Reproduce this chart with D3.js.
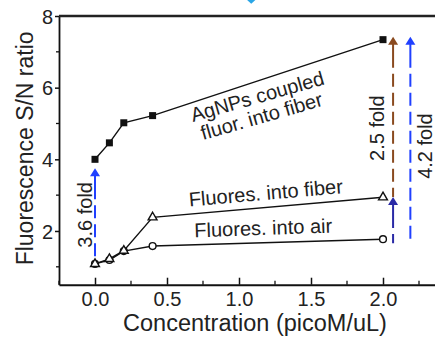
<!DOCTYPE html>
<html>
<head>
<meta charset="utf-8">
<script src="https://cdn.jsdelivr.net/npm/d3@7/dist/d3.min.js"></script>
<style>
  html, body { margin: 0; padding: 0; background: #fff; }
  svg { display: block; font-family: "Liberation Sans", Arial, sans-serif; }
</style>
</head>
<body>
<div id="chart"></div>
<script>
// Concentration values (picoM/uL) shared by all three series
const concentrations = [0, 0.1, 0.2, 0.4, 2.0];

// S/N ratio series
const agnpsFiber = [4.0, 4.46, 5.02, 5.22, 7.34];
const fluorFiber = [1.08, 1.22, 1.45, 2.38, 2.94];
const fluorAir = [1.08, 1.19, 1.44, 1.58, 1.77];

// Axis ticks
const xTicks = [0, 0.5, 1.0, 1.5, 2.0];
const xMinorTicks = [-0.25, 0.25, 0.75, 1.25, 1.75, 2.25];
const yTicks = [2, 4, 6, 8];
const yMinorTicks = [1, 3, 5, 7];

// Fold-change arrows (data units)
const arrowX = [0, 2.07, 2.07, 2.19];
const arrowFrom = [1.2, 2.95, 1.66, 1.66];
const arrowTo = [3.75, 7.42, 2.95, 7.42];
const arrowColors = ['#2040ff', '#8a4a1f', '#2a2aa6', '#2040ff'];

// Fold labels (rotated), anchored in data units
const foldText = ['3.6 fold', '2.5 fold', '4.2 fold'];
const foldX = [-0.02, 2.005, 2.34];
const foldY = [2.45, 4.87, 4.37];

// Series labels
const seriesLabels = [
  { lines: ['AgNPs coupled', 'fluor. into fiber'], x: [1.14, 1.17], y: [5.57, 5.02], angle: -16 },
  { lines: ['Fluores. into fiber'], x: [1.19], y: [2.87], angle: -5 },
  { lines: ['Fluores. into air'], x: [1.17], y: [1.89], angle: -2 }
];

const W = 435, H = 341;
const margin = { top: 16, left: 59 };
const font = '"Liberation Sans", Arial, sans-serif';

const svg = d3.select('#chart').append('svg')
  .attr('width', W)
  .attr('height', H);

const x = d3.scaleLinear().domain([-0.25, 2.5]).range([margin.left, margin.left + 2.75 * 144]);
const y = d3.scaleLinear().domain([0.5, 8]).range([margin.top + 7.5 * 35.83, margin.top]);

// Small cyan wedge at the very top (cropped element of the source figure)
svg.append('path')
  .attr('d', `M${x(1.05)},${y(8.47)} L${x(1.12)},${y(8.47)} L${x(1.085)},${y(8.34)} Z`)
  .attr('fill', '#2aa6e6');

// Axes
const xAxis = svg.append('g')
  .attr('transform', `translate(0,${y(0.5)})`)
  .call(d3.axisBottom(x).tickValues(xTicks).tickFormat(d3.format('.1f'))
    .tickSizeInner(-7).tickSizeOuter(0).tickPadding(7));

const yAxis = svg.append('g')
  .attr('transform', `translate(${x(-0.25)},0)`)
  .call(d3.axisLeft(y).tickValues(yTicks).tickFormat(d3.format('d'))
    .tickSizeInner(4).tickSizeOuter(0).tickPadding(2));

[xAxis, yAxis].forEach(g => {
  g.select('.domain').attr('stroke', '#111').attr('stroke-width', 1.8);
  g.selectAll('.tick line').attr('stroke', '#111').attr('stroke-width', 1.5);
  g.selectAll('.tick text')
    .attr('fill', '#222')
    .style('font-family', font)
    .style('font-size', '20px');
});
yAxis.selectAll('.tick text').attr('dy', '0.36em');

// Minor ticks
svg.append('g').selectAll('line')
  .data(xMinorTicks)
  .join('line')
  .attr('x1', d => x(d)).attr('x2', d => x(d))
  .attr('y1', y(0.5)).attr('y2', y(0.5) - 4)
  .attr('stroke', '#111').attr('stroke-width', 1.3);

svg.append('g').selectAll('line')
  .data(yMinorTicks)
  .join('line')
  .attr('x1', x(-0.25)).attr('x2', x(-0.25) - 3)
  .attr('y1', d => y(d)).attr('y2', d => y(d))
  .attr('stroke', '#111').attr('stroke-width', 1.3);

// Top frame line
svg.append('line')
  .attr('x1', x(-0.25)).attr('x2', W)
  .attr('y1', y(8)).attr('y2', y(8))
  .attr('stroke', '#222').attr('stroke-width', 2.5);

// Axis titles
svg.append('text')
  .attr('transform', `translate(33,${(y(8) + y(0.5)) / 2 - 2}) rotate(-90)`)
  .attr('text-anchor', 'middle')
  .style('font-family', font).style('font-size', '23px').attr('fill', '#222')
  .text('Fluorescence S/N ratio');

svg.append('text')
  .attr('x', 255).attr('y', 331)
  .attr('text-anchor', 'middle')
  .style('font-family', font).style('font-size', '23.5px').attr('fill', '#222')
  .text('Concentration (picoM/uL)');

// Series lines and markers
const line = d3.line().x(d => x(d[0])).y(d => y(d[1]));
const pts = vals => concentrations.map((c, i) => [c, vals[i]]);

function drawLine(vals) {
  svg.append('path')
    .datum(pts(vals))
    .attr('d', line)
    .attr('fill', 'none')
    .attr('stroke', '#111')
    .attr('stroke-width', 1.4);
}

drawLine(fluorAir);
drawLine(fluorFiber);
drawLine(agnpsFiber);

svg.append('g').selectAll('circle')
  .data(pts(fluorAir))
  .join('circle')
  .attr('cx', d => x(d[0])).attr('cy', d => y(d[1]))
  .attr('r', 3.4)
  .attr('fill', '#fff').attr('stroke', '#111').attr('stroke-width', 1.4);

svg.append('g').selectAll('path')
  .data(pts(fluorFiber))
  .join('path')
  .attr('d', d3.symbol(d3.symbolTriangle, 34))
  .attr('transform', d => `translate(${x(d[0])},${y(d[1])})`)
  .attr('fill', '#fff').attr('stroke', '#111').attr('stroke-width', 1.4);

svg.append('g').selectAll('rect')
  .data(pts(agnpsFiber))
  .join('rect')
  .attr('x', d => x(d[0]) - 3.5).attr('y', d => y(d[1]) - 3.5)
  .attr('width', 7).attr('height', 7)
  .attr('fill', '#111');

// Fold-change arrows
arrowX.forEach((ax, i) => {
  const px = x(ax);
  const tip = y(arrowTo[i]);
  const head = 8;
  svg.append('line')
    .attr('x1', px).attr('x2', px)
    .attr('y1', tip + head - 1).attr('y2', y(arrowFrom[i]))
    .attr('stroke', arrowColors[i])
    .attr('stroke-width', 2)
    .attr('stroke-dasharray', '24,6,13,6,13,6,13,6,13,6,13,6,13,6,13,6,13,6,13,6,13,6,13,6,13,6');
  svg.append('path')
    .attr('d', `M${px},${tip} L${px + 5},${tip + head} L${px - 5},${tip + head} Z`)
    .attr('fill', arrowColors[i]);
});

// Fold labels
foldText.forEach((t, i) => {
  svg.append('text')
    .attr('transform', `translate(${x(foldX[i])},${y(foldY[i])}) rotate(-90)`)
    .attr('text-anchor', 'middle')
    .style('font-family', font).style('font-size', '20px').attr('fill', '#222')
    .text(t);
});

// Series labels
seriesLabels.forEach(lbl => {
  lbl.lines.forEach((t, j) => {
    svg.append('text')
      .attr('transform', `translate(${x(lbl.x[j])},${y(lbl.y[j])}) rotate(${lbl.angle})`)
      .attr('text-anchor', 'middle')
      .style('font-family', font).style('font-size', '20px').attr('fill', '#222')
      .text(t);
  });
});
</script>
</body>
</html>
